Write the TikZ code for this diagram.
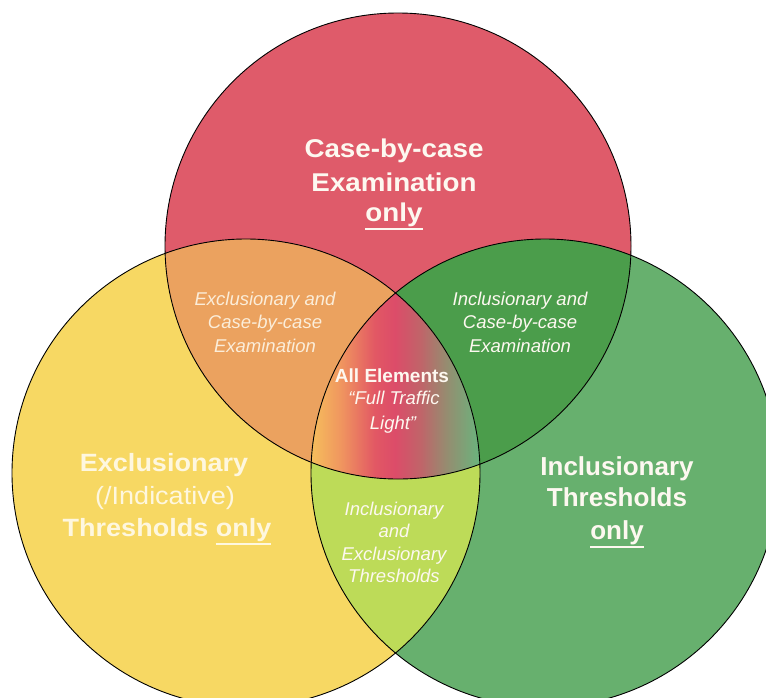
\documentclass[tikz,border=0pt]{standalone}
\usepackage{fontspec}
\setmainfont{Liberation Sans}
\newfontfamily\yelfont[FakeStretch=1.08]{Liberation Sans}
\newfontfamily\redfont[FakeStretch=1.08]{Liberation Sans}
\definecolor{cred}{HTML}{DF5B6A}
\definecolor{cyel}{HTML}{F7D863}
\definecolor{cgrn}{HTML}{67B06E}
\definecolor{corg}{HTML}{EBA25F}
\definecolor{cdgr}{HTML}{4B9D4B}
\definecolor{clim}{HTML}{BDDB58}
\definecolor{ctxt}{HTML}{FDF8F0}
\definecolor{ctxty}{HTML}{FEF7DF}
\definecolor{ctxto}{HTML}{FBEDD9}
\definecolor{tA}{RGB}{246,192,92}
\definecolor{tB}{RGB}{240,150,95}
\definecolor{tC}{RGB}{226,88,100}
\definecolor{tD}{RGB}{220,76,105}
\definecolor{tE}{RGB}{192,100,105}
\definecolor{tF}{RGB}{150,140,112}
\definecolor{tG}{RGB}{105,180,125}
\pgfdeclarehorizontalshading{traffic}{100bp}{color(0bp)=(tA); color(25bp)=(tA); color(34bp)=(tB); color(44bp)=(tC); color(50bp)=(tD); color(57.5bp)=(tE); color(65bp)=(tF); color(75bp)=(tG); color(100bp)=(tG)}
\newcommand\ulword[1]{\setbox0\hbox{#1}\rlap{\rule[-0.36em]{\wd0}{0.09em}}\box0}
\tikzset{
  lbl/.style={text=ctxt, inner sep=0pt, anchor=base},
  bigred/.style={lbl, font=\redfont\fontsize{25.7}{30}\selectfont\bfseries},
  bigyel/.style={lbl, text=ctxty, font=\yelfont\fontsize{25}{30}\selectfont\bfseries},
  bigyelreg/.style={lbl, text=ctxty, font=\yelfont\fontsize{25}{30}\selectfont},
  biggrn/.style={lbl, font=\fontsize{26}{30}\selectfont\bfseries},
  small/.style={lbl, font=\fontsize{18.5}{22}\selectfont\itshape},
  smallorg/.style={small, text=ctxto},
  smallbold/.style={lbl, font=\fontsize{19}{22}\selectfont\bfseries},
  ring/.style={draw=black, line width=0.9pt}
}
\begin{document}
\begin{tikzpicture}[x=1pt,y=-1pt]
\useasboundingbox (0,0) rectangle (766,697);
\clip (0,0) rectangle (766,697);
\coordinate (R) at (398,246);
\coordinate (Y) at (246,473);
\coordinate (G) at (545,473);
\def\rr{233pt}
\def\ry{234pt}
% base fills
\fill[cyel] (Y) circle (\ry);
\fill[cgrn] (G) circle (\ry);
\fill[cred] (R) circle (\rr);
% pairwise overlaps
\begin{scope}
  \clip (R) circle (\rr);
  \fill[corg] (Y) circle (\ry);
\end{scope}
\begin{scope}
  \clip (R) circle (\rr);
  \fill[cdgr] (G) circle (\ry);
\end{scope}
\begin{scope}
  \clip (Y) circle (\ry);
  \fill[clim] (G) circle (\ry);
\end{scope}
% triple overlap
\begin{scope}
  \clip (R) circle (\rr);
  \clip (Y) circle (\ry);
  \clip (G) circle (\ry);
  \shade[shading=traffic] (310,285) rectangle (480,482);
\end{scope}
% outlines
\draw[ring] (Y) circle (\ry);
\draw[ring] (G) circle (\ry);
\draw[ring] (R) circle (\rr);
% red label
\node[bigred] (r1) at (394,157) {Case-by-case};
\node[bigred] (r2) at (394,191) {Examination};
\node[bigred] (r3) at (394,221) {\ulword{only}};
% yellow label
\node[bigyel] (y1) at (164,471) {Exclusionary};
\node[bigyelreg] (y2) at (165,504) {(/Indicative)};
\node[bigyel] (y3) at (167,536) {Thresholds \ulword{only}};
% green label
\node[biggrn] (g1) at (617,475) {Inclusionary};
\node[biggrn] (g2) at (617,506) {Thresholds};
\node[biggrn] (g3) at (617,539) {\ulword{only}};
% orange lens
\node[smallorg] (o1) at (265,305) {Exclusionary and};
\node[smallorg] (o2) at (265,328) {Case-by-case};
\node[smallorg] (o3) at (265,352) {Examination};
% dark green lens
\node[small] (d1) at (520,305) {Inclusionary and};
\node[small] (d2) at (520,328) {Case-by-case};
\node[small] (d3) at (520,352) {Examination};
% lime lens
\node[small] (l1) at (394,515) {Inclusionary};
\node[small] (l2) at (394,537) {and};
\node[small] (l3) at (394,560) {Exclusionary};
\node[small] (l4) at (394,582) {Thresholds};
% centre
\node[smallbold] (c1) at (392,382) {All Elements};
\node[small] (c2) at (394,404) {“Full Traffic};
\node[small] (c3) at (393,429) {Light”};
\end{tikzpicture}
\end{document}
